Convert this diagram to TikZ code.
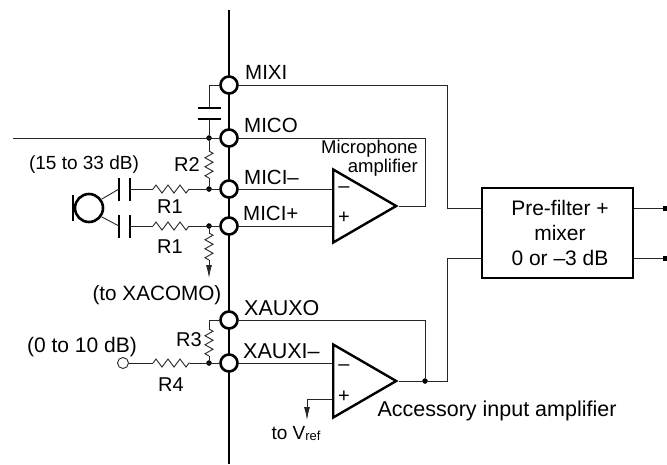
\documentclass[tikz,border=0pt]{standalone}
\usepackage{fontspec}
\setmainfont{Liberation Sans}
\usepackage{tikz}
\usetikzlibrary{arrows.meta,positioning,shapes.geometric,decorations.pathmorphing}

\tikzset{
    wire/.style={line width=0.9pt, black!85},
    bus/.style={line width=2.8pt},
    pin/.style={draw, circle, line width=2.6pt, fill=white, minimum size=17pt, inner sep=0pt},
    dot/.style={draw, circle, fill=black, minimum size=5pt, inner sep=0pt},
    outdot/.style={draw, rectangle, fill=black, minimum size=3.5pt, inner sep=0pt},
    opamp/.style={draw, isosceles triangle, isosceles triangle stretches, shape border rotate=0, line width=2.4pt, minimum width=73pt, minimum height=63pt, inner sep=0pt, anchor=lower side},
    plate/.style={line width=2.6pt},
    hres/.style={wire, decorate, decoration={zigzag, segment length=12pt, amplitude=4pt}},
    vres/.style={wire, decorate, decoration={zigzag, segment length=9pt, amplitude=4pt}},
    lbl/.style={font=\fontsize{20}{23}\selectfont, inner sep=0pt},
    pinlbl/.style={lbl, font=\fontsize{20.5}{23}\selectfont, anchor=base west},
    auxlbl/.style={pinlbl, font=\fontsize{21.5}{24}\selectfont}
}

\begin{document}
\begin{tikzpicture}[x=1pt, y=-1pt, >={Latex[length=13pt,width=6pt]}]
    \useasboundingbox (0,0) rectangle (667,464);

    % Bus and pins
    \coordinate (bustop) at (229,10);
    \coordinate (busbottom) at (229,464);
    \draw[bus] (bustop) -- (busbottom);
    \node[pin] (mixi) at (229,85) {};
    \node[pin] (mico) at (229,138) {};
    \node[pin] (micim) at (229,189) {};
    \node[pin] (micip) at (229,226) {};
    \node[pin] (xauxo) at (229,320) {};
    \node[pin] (xauxi) at (229,363) {};

    \node[pinlbl] at (245,79) {MIXI};
    \node[pinlbl] at (244,132) {MICO};
    \node[pinlbl] at (244,184) {MICI–};
    \node[pinlbl] at (243,220) {MICI+};
    \node[auxlbl] at (244,315) {XAUXO};
    \node[auxlbl] at (243,358) {XAUXI–};

    % Junction dots
    \node[dot] (dotmico) at (209,138) {};
    \node[dot] (dotm) at (209,189) {};
    \node[dot] (dotp) at (209,226) {};
    \node[dot] (dotaux) at (209,363) {};

    % Amplifiers and mixer
    \node[opamp] (micamp) at (332,206) {};
    \node[opamp] (auxamp) at (332,381) {};
    \node[draw, rectangle, line width=2.8pt, minimum width=151pt, minimum height=90pt, inner sep=0pt, align=center, font=\fontsize{21}{25}\selectfont] (mixer) at (557.5,233) {\hspace*{5pt}Pre-filter +\\\hspace*{5pt}mixer\\\hspace*{5pt}0 or –3 dB};
    \node[lbl] at (344,190) {–};
    \node[lbl] at (344,218) {+};
    \node[lbl] at (344,368) {–};
    \node[lbl] at (344,397) {+};
    \node[dot] (dotout) at (425,381) {};
    \node[outdot] (outa) at (665,208) {};
    \node[outdot] (outb) at (665,258) {};

    % Microphone
    \node[draw, circle, line width=2.6pt, minimum size=28pt, inner sep=0pt] (mic) at (89,208) {};
    \coordinate (micbara) at (73,195);
    \coordinate (micbarb) at (73,221);
    \draw[line width=2.6pt] (micbara) -- (micbarb);

    % Coupling capacitors on the microphone
    \coordinate (cap1a) at (119,189);
    \coordinate (cap1b) at (130,189);
    \coordinate (cap2a) at (119,226);
    \coordinate (cap2b) at (130,226);
    \draw[plate] ([yshift=-11.5pt]cap1a) -- ([yshift=11.5pt]cap1a);
    \draw[plate] ([yshift=-11.5pt]cap1b) -- ([yshift=11.5pt]cap1b);
    \draw[plate] ([yshift=-11.5pt]cap2a) -- ([yshift=11.5pt]cap2a);
    \draw[plate] ([yshift=-11.5pt]cap2b) -- ([yshift=11.5pt]cap2b);
    \draw[wire] (mic.35) -- (cap1a);
    \draw[wire] (mic.-35) -- (cap2a);

    % R1 twice
    \coordinate (r1a) at (153,189);
    \coordinate (r1b) at (189,189);
    \coordinate (r1c) at (153,226);
    \coordinate (r1d) at (189,226);
    \draw[wire] (cap1b) -- (r1a);
    \draw[hres] (r1a) -- (r1b);
    \draw[wire] (r1b) -- (micim);
    \draw[wire] (cap2b) -- (r1c);
    \draw[hres] (r1c) -- (r1d);
    \draw[wire] (r1d) -- (micip);

    % R2, and the resistor to XACOMO
    \coordinate (r2a) at (209,151);
    \coordinate (r2b) at (209,178);
    \draw[wire] (dotmico) -- (r2a);
    \draw[vres] (r2a) -- (r2b);
    \draw[wire] (r2b) -- (dotm);
    \coordinate (xaa) at (209,233);
    \coordinate (xab) at (209,260);
    \coordinate (xac) at (209,278);
    \draw[wire] (dotp) -- (xaa);
    \draw[vres] (xaa) -- (xab);
    \draw[wire, ->] (xab) -- (xac);

    % Capacitor on MIXI
    \coordinate (capmixa) at (209,108);
    \coordinate (capmixb) at (209,119);
    \draw[wire] (mixi) -| (capmixa);
    \draw[plate] ([xshift=-11.5pt]capmixa) -- ([xshift=11.5pt]capmixa);
    \draw[plate] ([xshift=-11.5pt]capmixb) -- ([xshift=11.5pt]capmixb);
    \draw[wire] (capmixb) -- (dotmico);

    % MICO line
    \coordinate (micoleft) at (13,138);
    \coordinate (micoback) at (425,138);
    \draw[wire] (micoleft) -- (mico);
    \draw[wire] (mico) -- (micoback) |- (micamp.apex);

    % Inputs of the amplifiers
    \draw[wire] (micim) -- (micim -| micamp.lower side);
    \draw[wire] (micip) -- (micip -| micamp.lower side);
    \draw[wire] (xauxi) -- (xauxi -| auxamp.lower side);
    \coordinate (vrefa) at (332,399);
    \coordinate (vrefb) at (307,399);
    \coordinate (vrefc) at (307,420);
    \draw[wire, ->] (vrefa) -- (vrefb) -- (vrefc);

    % R3 and R4
    \coordinate (r3a) at (209,329);
    \coordinate (r3b) at (209,356);
    \draw[wire] (xauxo) -| (r3a);
    \draw[vres] (r3a) -- (r3b);
    \draw[wire] (r3b) -- (dotaux);
    \node[draw, circle, wire, fill=white, minimum size=11pt, inner sep=0pt] (auxin) at (123,363) {};
    \coordinate (r4a) at (153,363);
    \coordinate (r4b) at (190,363);
    \draw[wire] (auxin) -- (r4a);
    \draw[hres] (r4a) -- (r4b);
    \draw[wire] (r4b) -- (xauxi);

    % Mixer connections
    \coordinate (mixup) at (447,208);
    \coordinate (mixdown) at (447,258);
    \draw[wire] (mixi) -- (mixi -| mixup) -- (mixup) -- (mixup -| mixer.west);
    \draw[wire] (auxamp.apex) -- (dotout);
    \draw[wire] (dotout) -- (dotout -| mixdown) -- (mixdown) -- (mixdown -| mixer.west);
    \draw[wire] (xauxo) -- (xauxo -| dotout) -- (dotout);
    \draw[wire] (mixup -| mixer.east) -- (outa);
    \draw[wire] (mixdown -| mixer.east) -- (outb);

    % Texts
    \node[lbl, font=\fontsize{19}{22}\selectfont] at (84,165) {(15 to 33 dB)};
    \node[lbl] at (187,165) {R2};
    \node[lbl] at (170,207) {R1};
    \node[lbl] at (170,247) {R1};
    \node[lbl, font=\fontsize{20.7}{24}\selectfont] at (157,295) {(to XACOMO)};
    \node[lbl] at (189,340) {R3};
    \node[lbl, font=\fontsize{21}{24}\selectfont] at (82,347) {(0 to 10 dB)};
    \node[lbl] at (171,385) {R4};
    \node[lbl, font=\fontsize{18.5}{21}\selectfont, anchor=east] at (418,149) {Microphone};
    \node[lbl, font=\fontsize{18.5}{21}\selectfont, anchor=east] at (418,168) {amplifier};
    \node[lbl, font=\fontsize{21.5}{24}\selectfont] at (497,411) {Accessory input amplifier};
    \node[lbl, font=\fontsize{19}{22}\selectfont] at (296,434) {to V\raisebox{-1pt}{\fontsize{13}{13}\selectfont ref}};
\end{tikzpicture}
\end{document}
